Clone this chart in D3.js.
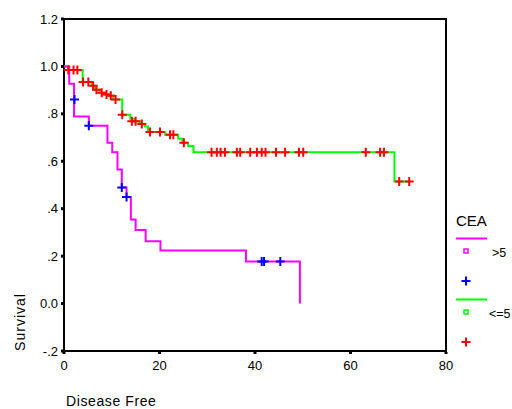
<!DOCTYPE html>
<html>
<head>
<meta charset="utf-8">
<script src="https://cdn.jsdelivr.net/npm/d3@7"></script>
<style>
  body { margin: 0; background: #fff; }
  svg text { font-family: "Liberation Sans", Arial, sans-serif; fill: #000; }
</style>
</head>
<body>
<svg id="chart" width="512" height="409"></svg>
<script>
// CEA > 5 : step curve [time, survival] and censored cases
var highSteps = [[0, 1.0], [1.1, 0.927], [2.1, 0.789], [5.2, 0.750], [9.1, 0.678], [10.1, 0.638],
  [11.2, 0.565], [12.1, 0.489], [13.1, 0.449], [14.0, 0.354], [15.0, 0.310], [17.1, 0.263],
  [20.2, 0.224], [38.1, 0.177], [49.4, 0.0]];
var highCensored = [[2.2, 0.861], [5.2, 0.750], [12.1, 0.489], [13.1, 0.449], [41.4, 0.177], [41.9, 0.177], [45.3, 0.177]];

// CEA <= 5
var lowSteps = [[0, 1.0], [1.1, 0.985], [3.9, 0.934], [5.8, 0.918], [6.5, 0.902], [7.5, 0.889],
  [8.6, 0.882], [9.6, 0.876], [10.3, 0.861], [12.2, 0.796], [13.9, 0.779], [14.8, 0.769],
  [15.9, 0.757], [16.9, 0.747], [17.6, 0.723], [21.2, 0.712], [23.9, 0.695], [24.8, 0.678],
  [26.0, 0.664], [27.1, 0.638], [69.2, 0.515], [72.3, 0.515]];
var lowCensored = [[0.9, 0.985], [2.0, 0.985], [2.8, 0.985], [4.0, 0.934], [5.1, 0.934], [6.1, 0.918],
  [6.8, 0.902], [7.9, 0.889], [8.9, 0.882], [9.8, 0.876], [10.8, 0.861], [12.2, 0.796],
  [14.2, 0.769], [15.0, 0.769], [16.3, 0.757], [18.0, 0.723], [20.1, 0.723], [22.2, 0.712],
  [22.9, 0.712], [25.1, 0.678], [30.9, 0.638], [32.0, 0.638], [32.8, 0.638], [33.7, 0.638],
  [36.2, 0.638], [36.9, 0.638], [39.0, 0.638], [40.4, 0.638], [41.4, 0.638], [42.2, 0.638],
  [44.4, 0.638], [46.3, 0.638], [49.2, 0.638], [50.1, 0.638], [63.2, 0.638], [66.2, 0.638],
  [67.0, 0.638], [70.2, 0.515], [72.3, 0.515]];

var xTicks = [0, 20, 40, 60, 80];
var yTicks = [-0.2, 0, 0.2, 0.4, 0.6, 0.8, 1.0, 1.2];
var yTickLabels = ["-.2", "0.0", ".2", ".4", ".6", ".8", "1.0", "1.2"];
var legendItems = [{label: ">5", line: "#ff00ff", cross: "#0000ff"}, {label: "<=5", line: "#00ff00", cross: "#ff0000"}];

var svg = d3.select("#chart");

var x = d3.scaleLinear().domain([0, 80]).range([64, 446]);
var y = d3.scaleLinear().domain([-0.2, 1.2]).range([351, 19]);

var crossPath = "M-4.5,0H4.5M0,-4.5V4.5";

// frame
svg.append("rect")
  .attr("x", x(0)).attr("y", y(1.2))
  .attr("width", x(80) - x(0)).attr("height", y(-0.2) - y(1.2))
  .attr("fill", "none").attr("stroke", "#000").attr("stroke-width", 2);

// y ticks
svg.selectAll(".ytick").data(yTicks).enter().append("rect")
  .attr("x", x(0) - 3).attr("y", d => y(d) - 1.5)
  .attr("width", 3).attr("height", 3).attr("fill", "#000");
svg.selectAll(".ylab").data(yTicks).enter().append("text")
  .attr("x", 58).attr("y", d => y(d) + 4.5)
  .attr("text-anchor", "end").style("font-size", "13px")
  .text((d, i) => yTickLabels[i]);

// x ticks
svg.selectAll(".xtick").data(xTicks).enter().append("rect")
  .attr("x", d => x(d) - 1.5).attr("y", y(-0.2) + 1)
  .attr("width", 3).attr("height", 2).attr("fill", "#000");
svg.selectAll(".xlab").data(xTicks).enter().append("text")
  .attr("x", d => x(d)).attr("y", 370)
  .attr("text-anchor", "middle").style("font-size", "13px")
  .text(d => d);

// axis titles
svg.append("text")
  .attr("transform", "translate(25,322) rotate(-90)")
  .attr("text-anchor", "middle").style("font-size", "14px").style("letter-spacing", "1px")
  .text("Survival");
svg.append("text")
  .attr("x", 66).attr("y", 406)
  .style("font-size", "14px").style("letter-spacing", "0.6px")
  .text("Disease Free");

var stepLine = d3.line()
  .x(d => x(d[0])).y(d => y(d[1]))
  .curve(d3.curveStepAfter);

svg.append("path").datum(lowSteps)
  .attr("d", stepLine).attr("fill", "none")
  .attr("stroke", "#00ff00").attr("stroke-width", 2);
svg.append("path").datum(highSteps)
  .attr("d", stepLine).attr("fill", "none")
  .attr("stroke", "#ff00ff").attr("stroke-width", 2);

svg.selectAll(".lowc").data(lowCensored).enter().append("path")
  .attr("transform", d => "translate(" + x(d[0]) + "," + y(d[1]) + ")")
  .attr("d", crossPath).attr("stroke", "#ff0000").attr("stroke-width", 2);
svg.selectAll(".highc").data(highCensored).enter().append("path")
  .attr("transform", d => "translate(" + x(d[0]) + "," + y(d[1]) + ")")
  .attr("d", crossPath).attr("stroke", "#0000ff").attr("stroke-width", 2);

// legend
var legend = svg.append("g");
legend.append("text").attr("x", 456).attr("y", 226).style("font-size", "15px").text("CEA");
var items = legend.selectAll(".item").data(legendItems).enter().append("g")
  .attr("transform", (d, i) => "translate(0," + (i * 61) + ")");
items.append("line")
  .attr("x1", 456).attr("x2", 487).attr("y1", 238.5).attr("y2", 238.5)
  .attr("stroke", d => d.line).attr("stroke-width", 2);
items.append("rect")
  .attr("x", 464).attr("y", 249).attr("width", 4).attr("height", 4)
  .attr("fill", "#fff").attr("stroke", d => d.line).attr("stroke-width", 1.5);
items.append("text")
  .attr("x", d => d.label === ">5" ? 492 : 489).attr("y", 257)
  .style("font-size", "12.5px").text(d => d.label);
items.append("path")
  .attr("transform", "translate(466,281)")
  .attr("d", crossPath).attr("stroke", d => d.cross).attr("stroke-width", 2);
</script>
</body>
</html>
